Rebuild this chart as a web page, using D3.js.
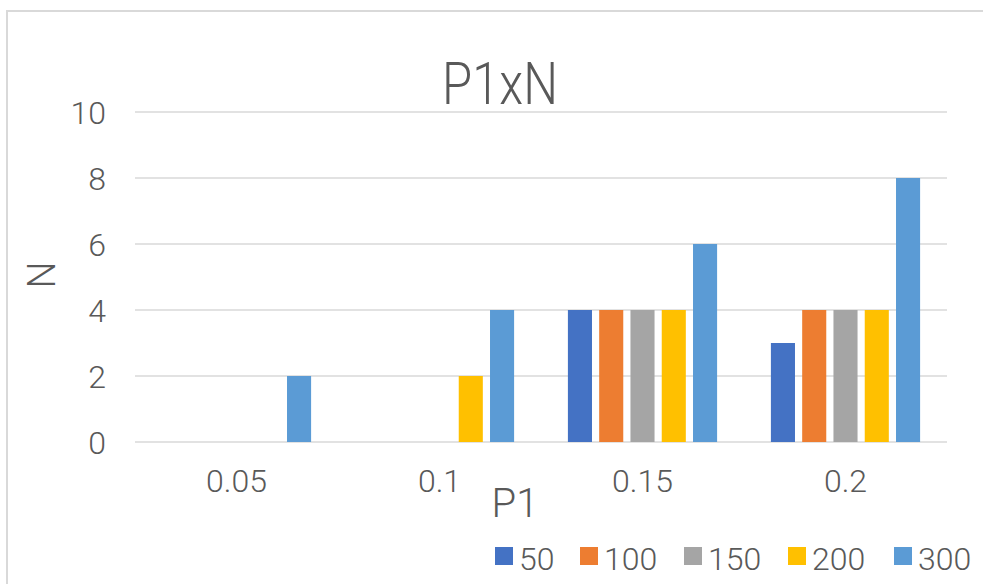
<!DOCTYPE html>
<html>
<head>
<meta charset="utf-8">
<script src="https://cdn.jsdelivr.net/npm/d3@7"></script>
<style>
  html, body { margin: 0; padding: 0; background: #ffffff; }
  svg { display: block; }
  text { font-family: Roboto, "Noto Sans", sans-serif; font-weight: 300; fill: #595959; }
</style>
</head>
<body>
<svg id="chart" width="983" height="584"></svg>
<script>
// P1 categories on the x axis
const categories = ["0.05", "0.1", "0.15", "0.2"];
// one series per N-setting, shown in the legend
const seriesNames = ["50", "100", "150", "200", "300"];
const seriesColors = ["#4472C4", "#ED7D31", "#A5A5A5", "#FFC000", "#5B9BD5"];
// values per series, in category order
const values50  = [0, 0, 4, 3];
const values100 = [0, 0, 4, 4];
const values150 = [0, 0, 4, 4];
const values200 = [0, 2, 4, 4];
const values300 = [2, 4, 6, 8];
const yTicks = [0, 2, 4, 6, 8, 10];

const seriesValues = [values50, values100, values150, values200, values300];

const svg = d3.select("#chart");

// chart area frame
svg.append("rect")
  .attr("x", 7).attr("y", 11)
  .attr("width", 1000).attr("height", 620)
  .attr("fill", "none")
  .attr("stroke", "#d9d9d9")
  .attr("stroke-width", 2);

const plot = { left: 135, right: 947, top: 112, bottom: 442 };

const x0 = d3.scaleBand()
  .domain(categories)
  .range([plot.left, plot.right])
  .paddingInner(0).paddingOuter(0);

const x1 = d3.scaleBand()
  .domain(seriesNames)
  .range([0, x0.bandwidth()])
  .paddingInner(0.23)
  .paddingOuter(0.86);

const y = d3.scaleLinear().domain([0, 10]).range([plot.bottom, plot.top]);

// horizontal gridlines
svg.append("g")
  .selectAll("line")
  .data(yTicks)
  .join("line")
  .attr("x1", plot.left).attr("x2", plot.right)
  .attr("y1", d => y(d)).attr("y2", d => y(d))
  .attr("stroke", "#d9d9d9")
  .attr("stroke-width", 1.5);

// y tick labels
svg.append("g")
  .selectAll("text")
  .data(yTicks)
  .join("text")
  .attr("x", 106)
  .attr("y", d => y(d))
  .attr("dy", "0.36em")
  .attr("text-anchor", "end")
  .attr("font-size", 32)
  .text(d => d);

// bars
const groups = svg.append("g")
  .selectAll("g")
  .data(categories)
  .join("g")
  .attr("transform", d => `translate(${x0(d)},0)`);

groups.selectAll("rect")
  .data((c, ci) => seriesNames.map((s, si) => ({ s, si, v: seriesValues[si][ci] })))
  .join("rect")
  .attr("x", d => x1(d.s))
  .attr("width", x1.bandwidth())
  .attr("y", d => y(d.v))
  .attr("height", d => y(0) - y(d.v))
  .attr("fill", d => seriesColors[d.si]);

// x tick labels
svg.append("g")
  .selectAll("text")
  .data(categories)
  .join("text")
  .attr("x", d => x0(d) + x0.bandwidth() / 2)
  .attr("y", 492)
  .attr("text-anchor", "middle")
  .attr("font-size", 32)
  .text(d => d);

// title
svg.append("text")
  .attr("x", 500).attr("y", 104)
  .attr("text-anchor", "middle")
  .attr("font-size", 60)
  .attr("textLength", 116)
  .attr("lengthAdjust", "spacingAndGlyphs")
  .text("P1xN");

// axis titles
svg.append("text")
  .attr("transform", "translate(55,275) rotate(-90)")
  .attr("text-anchor", "middle")
  .attr("font-size", 38)
  .text("N");

svg.append("text")
  .attr("x", 515).attr("y", 517)
  .attr("text-anchor", "middle")
  .attr("font-size", 40)
  .text("P1");

// legend
const legendStarts = [495, 580, 684, 788, 894];
const legend = svg.append("g")
  .selectAll("g")
  .data(seriesNames)
  .join("g")
  .attr("transform", (d, i) => `translate(${legendStarts[i]},0)`);

legend.append("rect")
  .attr("x", 0).attr("y", 547)
  .attr("width", 18).attr("height", 18)
  .attr("fill", (d, i) => seriesColors[i]);

legend.append("text")
  .attr("x", 24).attr("y", 570)
  .attr("font-size", 32)
  .text(d => d);
</script>
</body>
</html>
